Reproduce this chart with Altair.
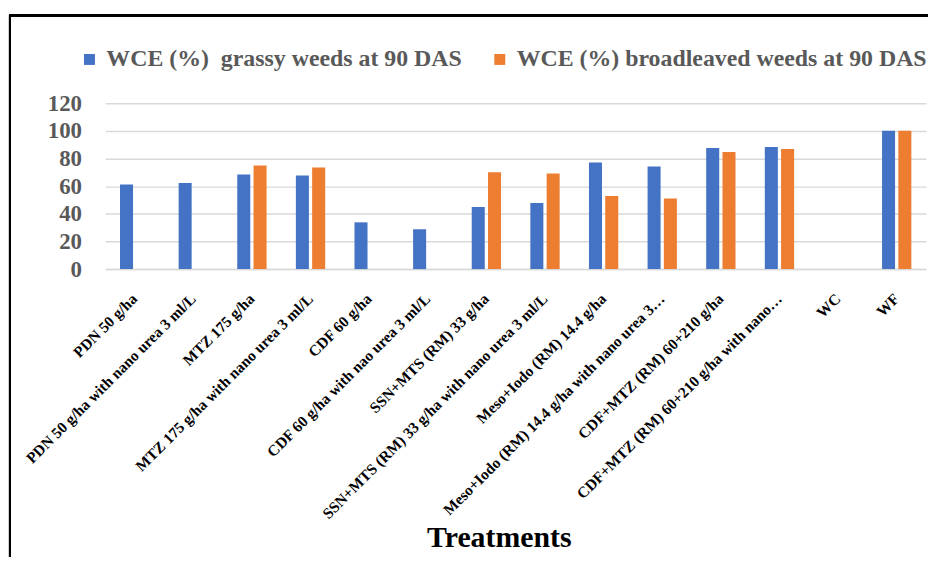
import altair as alt
import pandas as pd

treatments = [
    "PDN 50 g/ha",
    "PDN 50 g/ha with nano urea 3 ml/L",
    "MTZ 175 g/ha",
    "MTZ 175 g/ha with nano urea 3 ml/L",
    "CDF 60 g/ha",
    "CDF 60 g/ha with nao urea 3 ml/L",
    "SSN+MTS (RM) 33 g/ha",
    "SSN+MTS (RM) 33 g/ha with nano urea 3 ml/L",
    "Meso+Iodo (RM) 14.4 g/ha",
    "Meso+Iodo (RM) 14.4 g/ha with nano urea 3…",
    "CDF+MTZ (RM) 60+210 g/ha",
    "CDF+MTZ (RM) 60+210 g/ha with nano…",
    "WC",
    "WF",
]
grassy = [61.2, 62.2, 68.4, 67.7, 33.8, 28.8, 44.9, 47.8, 77.0, 74.2, 87.6, 88.3, 0, 100]
broadleaved = [None, None, 74.9, 73.4, None, None, 70.1, 69.1, 52.8, 51.1, 84.7, 86.9, 0, 100]
series_names = [
    "WCE (%)\u00a0 grassy weeds at 90 DAS",
    "WCE (%) broadleaved weeds at 90 DAS",
]
series_colors = ["#4472C4", "#ED7D31"]
y_ticks = [0, 20, 40, 60, 80, 100, 120]

rows = []
for t, g, b in zip(treatments, grassy, broadleaved):
    rows.append({"Treatment": t, "Series": series_names[0], "Value": g})
    rows.append({"Treatment": t, "Series": series_names[1], "Value": b})
df = pd.DataFrame(rows).dropna()

SERIF = "Liberation Serif"

bars = alt.Chart(df).mark_bar().encode(
    x=alt.X(
        "Treatment:N",
        sort=treatments,
        scale=alt.Scale(paddingInner=0.5, paddingOuter=0.25),
        axis=alt.Axis(
            title="Treatments",
            titleFont=SERIF,
            titleFontSize=30,
            titleFontWeight="bold",
            titleColor="black",
            titleX=396,
            titleY=279,
            titleBaseline="alphabetic",
            titleAnchor="middle",
            labelAngle=-45,
            labelAlign="right",
            labelBaseline="middle",
            labelFont=SERIF,
            labelFontSize=15.5,
            labelFontWeight="bold",
            labelColor="black",
            labelPadding=27,
            labelLimit=0,
            ticks=False,
            domainColor="#d9d9d9",
            domainWidth=1.5,
            labelOverlap=False,
        ),
    ),
    xOffset=alt.XOffset("Series:N", sort=series_names, scale=alt.Scale(paddingInner=0.2)),
    y=alt.Y(
        "Value:Q",
        scale=alt.Scale(domain=[0, 120]),
        axis=alt.Axis(
            values=y_ticks,
            title=None,
            labelFont=SERIF,
            labelFontSize=23,
            labelFontWeight="bold",
            labelColor="#595959",
            labelPadding=24,
            ticks=False,
            domain=False,
            gridColor="#d9d9d9",
            gridWidth=1.5,
        ),
    ),
    color=alt.Color(
        "Series:N",
        sort=series_names,
        scale=alt.Scale(domain=series_names, range=series_colors),
        legend=alt.Legend(
            title=None,
            orient="none",
            legendX=-28,
            legendY=-56,
            direction="horizontal",
            columns=2,
            symbolType="square",
            symbolSize=121,
            symbolStrokeWidth=0,
            labelFont=SERIF,
            labelFontSize=24,
            labelFontWeight="bold",
            labelColor="#595959",
            labelOffset=5,
            columnPadding=26,
            labelLimit=0,
        ),
    ),
)

frame_left = alt.Chart(df).mark_rule(color="black", strokeWidth=2, clip=False).encode(
    x=alt.value(-96), y=alt.value(-88), y2=alt.value(470)
)
frame_top = alt.Chart(df).mark_rule(color="black", strokeWidth=2, clip=False).encode(
    x=alt.value(-97), x2=alt.value(840), y=alt.value(-88)
)

chart = alt.layer(bars, frame_left, frame_top).properties(
    width=826,
    height=167,
    autosize=alt.AutoSizeParams(type="none"),
    padding={"left": 98, "top": 94, "right": 2, "bottom": 288},
).configure_view(stroke=None)

chart.save("out.html", embed_options={"renderer": "svg", "actions": False})
